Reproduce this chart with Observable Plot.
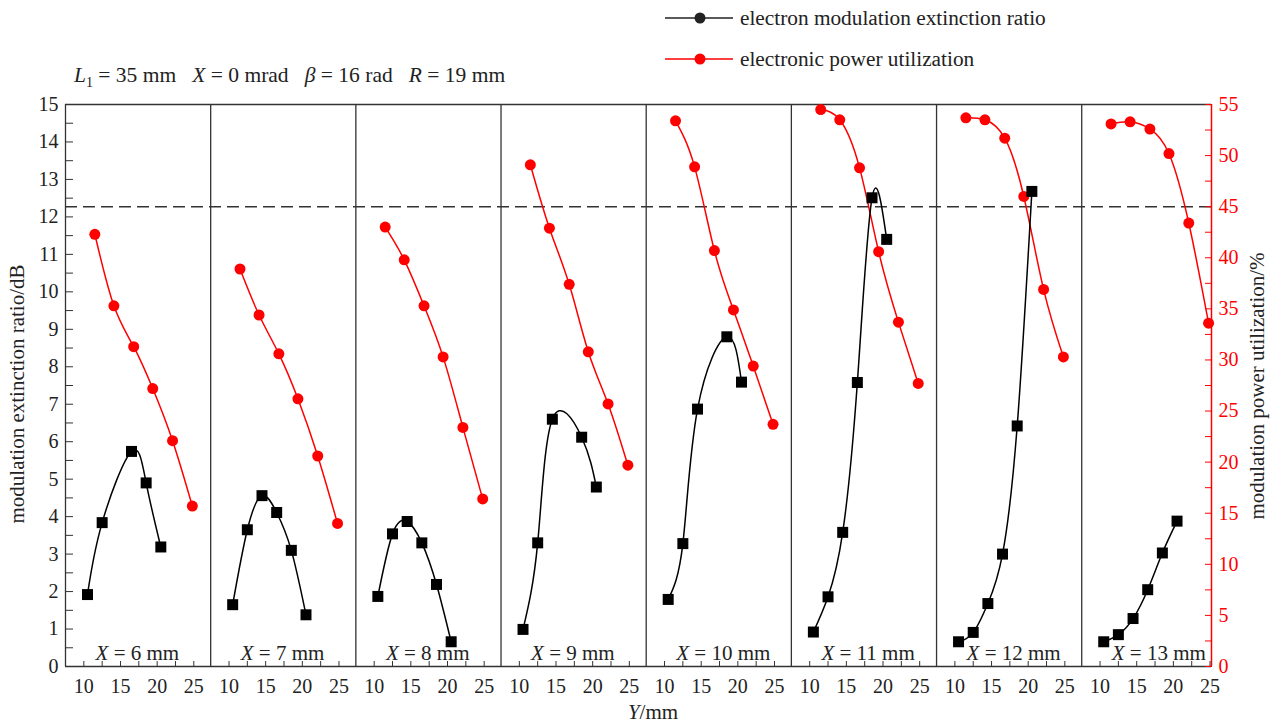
<!DOCTYPE html>
<html><head><meta charset="utf-8">
<script src="https://cdn.jsdelivr.net/npm/d3@7"></script>
<script src="https://cdn.jsdelivr.net/npm/@observablehq/plot@0.6"></script>
<style>
body{margin:0;background:#fff;}
#chart{position:relative;width:1270px;height:726px;}
</style></head><body><div id="chart"></div>
<script>
// ---- data ----
const panelX = [6, 7, 8, 9, 10, 11, 12, 13];               // X (mm) for each panel
const blackY = [10.5, 12.5, 14.5, 16.5, 18.5, 20.5];       // Y (mm) for extinction ratio points
const redY = [11.5, 14.1, 16.8, 19.4, 22.1, 24.8];         // Y (mm) for power utilization points
const extinction = [                                       // dB
  [1.92, 3.84, null, 5.74, 4.90, 3.19],
  [1.65, 3.65, 4.56, 4.11, 3.10, 1.38],
  [1.87, 3.54, 3.87, 3.30, 2.19, 0.66],
  [0.99, 3.30, 6.60, null, 6.12, 4.79],
  [1.79, 3.28, 6.87, null, 8.80, 7.59],
  [0.92, 1.86, 3.58, 7.58, 12.51, 11.40],
  [0.66, 0.91, 1.68, 3.00, 6.42, 12.68],
  [0.66, 0.85, 1.28, 2.05, 3.03, 3.88]
];
const power = [                                            // %
  [42.3, 35.3, 31.3, 27.2, 22.1, 15.7],
  [38.9, 34.4, 30.6, 26.2, 20.6, 14.0],
  [43.0, 39.8, 35.3, 30.3, 23.4, 16.4],
  [49.1, 42.9, 37.4, 30.8, 25.7, 19.7],
  [53.4, 48.9, 40.7, 34.9, 29.4, 23.7],
  [54.5, 53.5, 48.8, 40.6, 33.7, 27.7],
  [53.7, 53.5, 51.7, 46.0, 36.9, 30.3],
  [53.1, 53.3, 52.6, 50.2, 43.4, 33.6]
];
const thresholdPct = 45;
const xTickValues = [10, 12.5, 15, 17.5, 20, 22.5, 25];
const seriesNames = ["electron modulation extinction ratio", "electronic power utilization"];
const seriesColors = ["#222", "#ff0000"];
const Y_MAX = 15, P_MAX = 55;

// ---- layout helpers ----
const X0 = 7.5, XEND_LAST = 25.2, P = 19.8;
const nP = panelX.length;
const off = i => i * P;
const toDb = p => p * Y_MAX / P_MAX;

const blackData = [], redData = [];
panelX.forEach((X, i) => {
  blackY.forEach((y, j) => { const v = extinction[i][j]; if (v != null) blackData.push({panel: X, x: off(i) + y, v}); });
  redY.forEach((y, j) => redData.push({panel: X, x: off(i) + y, v: toDb(power[i][j])}));
});
const innerBounds = d3.range(nP).map(i => off(i) + X0);
const lastBound = off(nP - 1) + XEND_LAST;
const xTicks = panelX.flatMap((_, i) => xTickValues.map(t => off(i) + t));
const fmtX = d => { const t = Math.round((((d - X0) % P) + X0) * 10) / 10; return t % 5 === 0 ? String(t) : ""; };
const pTicks = d3.range(0, P_MAX + 0.01, 2.5);

const font = "'Liberation Serif','Times New Roman',serif";
const plot = Plot.plot({
  width: 1270, height: 726,
  marginLeft: 65, marginRight: 59, marginTop: 104, marginBottom: 60,
  style: {fontFamily: font, fontSize: "20px", color: "#222", background: "#fff"},
  x: {domain: [X0, lastBound]},
  y: {domain: [0, Y_MAX]},
  marks: [
    Plot.ruleY([Y_MAX], {stroke: "#333", strokeWidth: 1.5}),
    Plot.ruleY([0], {stroke: "#333", strokeWidth: 1.5}),
    Plot.ruleX(innerBounds, {stroke: "#333", strokeWidth: 1.3}),
    Plot.ruleX([lastBound], {stroke: "#ff0000", strokeWidth: 1.5}),
    Plot.ruleY([toDb(thresholdPct)], {stroke: "#333", strokeWidth: 1.5, strokeDasharray: "12,6"}),
    Plot.axisX({ticks: xTicks, tickSize: -5, tickPadding: 17, tickFormat: fmtX, label: null, stroke: "#333"}),
    Plot.axisY({anchor: "left", ticks: d3.range(0, Y_MAX + 0.01, 0.5), tickSize: -8, tickPadding: 15,
      tickFormat: d => Number.isInteger(d) ? String(d) : "", label: null, stroke: "#333"}),
    Plot.axisY({anchor: "right", ticks: pTicks.map(toDb), tickSize: -7, tickPadding: 14,
      tickFormat: d => { const p = Math.round(d * P_MAX / Y_MAX * 10) / 10; return p % 5 === 0 ? String(p) : ""; },
      label: null, color: "#ff0000"}),
    Plot.line(redData, {x: "x", y: "v", z: "panel", curve: "natural", stroke: "#ff0000", strokeWidth: 1.5}),
    Plot.dot(redData, {x: "x", y: "v", r: 5.5, fill: "#ff0000", symbol: "circle"}),
    Plot.line(blackData, {x: "x", y: "v", z: "panel", curve: "natural", stroke: "#000", strokeWidth: 1.5}),
    Plot.dot(blackData, {x: "x", y: "v", r: 6.2, fill: "#000", symbol: "square"}),
    Plot.text(panelX, {x: (d, i) => off(i) + 11.6, frameAnchor: "bottom", dy: -7, lineAnchor: "bottom",
      textAnchor: "start", text: d => `X = ${d} mm`, fontSize: 21, fill: "#222"})
  ]
});
document.getElementById("chart").appendChild(plot);

const svg = d3.select(plot);
// italic X in panel labels
svg.selectAll("text").filter(function () { return /^X = \d+ mm$/.test(this.textContent); }).each(function () {
  const rest = this.textContent.slice(1);
  const s = d3.select(this); s.text(null);
  s.append("tspan").attr("font-style", "italic").text("X");
  s.append("tspan").text(rest);
});

// axis titles
svg.append("text").attr("transform", "translate(17,394) rotate(-90)").attr("text-anchor", "middle")
  .attr("dominant-baseline", "central").attr("font-family", font).attr("font-size", 21).attr("fill", "#222")
  .text("modulation extinction ratio/dB");
svg.append("text").attr("transform", "translate(1257,386) rotate(-90)").attr("text-anchor", "middle")
  .attr("dominant-baseline", "central").attr("font-family", font).attr("font-size", 21).attr("fill", "#222")
  .text("modulation power utilization/%");
const yl = svg.append("text").attr("x", 653).attr("y", 719).attr("text-anchor", "middle")
  .attr("font-family", font).attr("font-size", 21).attr("fill", "#222");
yl.append("tspan").attr("font-style", "italic").text("Y");
yl.append("tspan").text("/mm");

// parameter annotation
const ann = svg.append("text").attr("x", 74).attr("y", 82).attr("text-anchor", "start")
  .attr("font-family", font).attr("font-size", 21.5).attr("fill", "#222").style("white-space", "pre");
ann.append("tspan").attr("font-style", "italic").text("L");
ann.append("tspan").attr("font-size", 14).attr("dy", 5).text("1");
ann.append("tspan").attr("dy", -5).text(" = 35 mm   ");
ann.append("tspan").attr("font-style", "italic").text("X");
ann.append("tspan").text(" = 0 mrad   ");
ann.append("tspan").attr("font-style", "italic").text("β");
ann.append("tspan").text(" = 16 rad   ");
ann.append("tspan").attr("font-style", "italic").text("R");
ann.append("tspan").text(" = 19 mm");

// legend
const rowsY = [18, 59];
seriesNames.forEach((name, i) => {
  const g = svg.append("g").attr("transform", `translate(0,${rowsY[i]})`);
  g.append("line").attr("x1", 665).attr("x2", 733).attr("y1", 0).attr("y2", 0)
    .attr("stroke", seriesColors[i]).attr("stroke-width", 1.5);
  g.append("circle").attr("cx", 700).attr("cy", 0).attr("r", 5.5).attr("fill", seriesColors[i]);
  g.append("text").attr("x", 740).attr("y", 0).attr("text-anchor", "start").attr("dominant-baseline", "central")
    .attr("font-family", font).attr("font-size", 21.3).attr("fill", "#222").text(name);
});
</script></body></html>
